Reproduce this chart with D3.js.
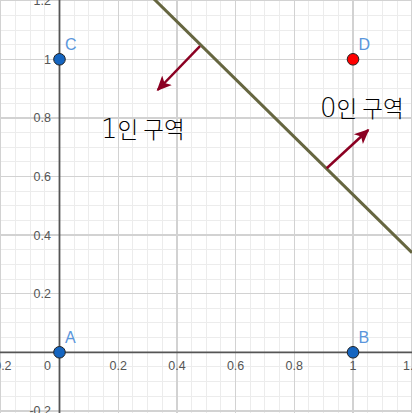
<!DOCTYPE html>
<html>
<head>
<meta charset="utf-8">
<script src="https://cdn.jsdelivr.net/npm/d3@7/dist/d3.min.js"></script>
<style>
  html, body { margin: 0; padding: 0; background: #fff; }
  svg { display: block; }
</style>
</head>
<body>
<svg id="chart" width="412" height="413"></svg>
<script>
// ---- data ----
const xDomain = [-0.2027, 1.2010];
const yDomain = [-0.2072, 1.2024];
const majorTicks = [-0.2, 0, 0.2, 0.4, 0.6, 0.8, 1, 1.2];
const tickLabels = ["-0.2", "0", "0.2", "0.4", "0.6", "0.8", "1", "1.2"];
const minorStep = 0.05;

const pointNames = ["A", "B", "C", "D"];
const pointX = [0, 1, 0, 1];
const pointY = [0, 0, 1, 1];
const pointOutput = [1, 1, 1, 0];

// decision boundary y = slope * x + intercept
const boundarySlope = -0.985;
const boundaryIntercept = 1.523;

const arrowStartX = [0.4787, 0.9104];
const arrowStartY = [1.045, 0.628];
const arrowEndX = [0.3346, 1.052];
const arrowEndY = [0.8952, 0.7587];

const regionDigits = ["1", "0"];
const regionTexts = ["인 구역", "인 구역"];
const regionX = [0.1414, 0.8876];
const regionY = [0.7314, 0.8014];

// ---- drawing ----
const W = 412, H = 413;
const svg = d3.select("#chart");
const x = d3.scaleLinear().domain(xDomain).range([0, W]);
const y = d3.scaleLinear().domain(yDomain).range([H, 0]);

const minorX = d3.range(Math.ceil(xDomain[0] / minorStep), Math.floor(xDomain[1] / minorStep) + 1).map(i => +(i * minorStep).toFixed(4));
const minorY = d3.range(Math.ceil(yDomain[0] / minorStep), Math.floor(yDomain[1] / minorStep) + 1).map(i => +(i * minorStep).toFixed(4));

const grid = svg.append("g").attr("shape-rendering", "crispEdges");
grid.selectAll("line.mx").data(minorX).join("line")
  .attr("x1", d => x(d)).attr("x2", d => x(d)).attr("y1", 0).attr("y2", H)
  .attr("stroke", "#ececec").attr("stroke-width", 1);
grid.selectAll("line.my").data(minorY).join("line")
  .attr("y1", d => y(d)).attr("y2", d => y(d)).attr("x1", 0).attr("x2", W)
  .attr("stroke", "#ececec").attr("stroke-width", 1);
grid.selectAll("line.Mx").data(majorTicks).join("line")
  .attr("x1", d => x(d)).attr("x2", d => x(d)).attr("y1", 0).attr("y2", H)
  .attr("stroke", "#d2d2d2").attr("stroke-width", 1.3);
grid.selectAll("line.My").data(majorTicks).join("line")
  .attr("y1", d => y(d)).attr("y2", d => y(d)).attr("x1", 0).attr("x2", W)
  .attr("stroke", "#d2d2d2").attr("stroke-width", 1.3);

// axes
svg.append("line").attr("x1", 0).attr("x2", W).attr("y1", y(0)).attr("y2", y(0))
  .attr("stroke", "#555").attr("stroke-width", 1.8);
svg.append("line").attr("x1", x(0)).attr("x2", x(0)).attr("y1", 0).attr("y2", H)
  .attr("stroke", "#555").attr("stroke-width", 1.8);

// tick labels
const labFont = "Liberation Sans, Arial, sans-serif";
majorTicks.forEach((t, i) => {
  if (t === 0) return;
  svg.append("text").attr("x", x(t)).attr("y", y(0) + 17.5)
    .attr("text-anchor", "middle").attr("font-family", labFont).attr("font-size", 12.5)
    .attr("fill", "#555").text(tickLabels[i]);
  svg.append("text").attr("x", x(0) - 8.5).attr("y", y(t) + 4.5)
    .attr("text-anchor", "end").attr("font-family", labFont).attr("font-size", 12.5)
    .attr("fill", "#555").text(tickLabels[i]);
});
svg.append("text").attr("x", x(0) - 8.5).attr("y", y(0) + 17.5)
  .attr("text-anchor", "end").attr("font-family", labFont).attr("font-size", 12.5)
  .attr("fill", "#555").text("0");

// boundary line
const lineGen = d3.line().x(d => x(d)).y(d => y(boundarySlope * d + boundaryIntercept));
svg.append("path").datum(xDomain).attr("d", lineGen)
  .attr("stroke", "#666640").attr("stroke-width", 3).attr("fill", "none");

// arrows
const defs = svg.append("defs");
defs.append("marker").attr("id", "ah").attr("viewBox", "0 0 10 10")
  .attr("refX", 9).attr("refY", 5).attr("markerUnits", "userSpaceOnUse")
  .attr("markerWidth", 15).attr("markerHeight", 15).attr("orient", "auto")
  .append("path").attr("d", "M0,0.5 L10,5 L0,9.5 L2.5,5 Z").attr("fill", "#8b0022");
arrowStartX.forEach((sx, i) => {
  svg.append("line")
    .attr("x1", x(sx)).attr("y1", y(arrowStartY[i]))
    .attr("x2", x(arrowEndX[i])).attr("y2", y(arrowEndY[i]))
    .attr("stroke", "#8b0022").attr("stroke-width", 2.5)
    .attr("marker-end", "url(#ah)");
});

// region labels
regionDigits.forEach((dg, i) => {
  const t = svg.append("text").attr("x", x(regionX[i])).attr("y", y(regionY[i])).attr("fill", "#000");
  t.append("tspan").attr("font-family", "DejaVu Sans, sans-serif").attr("font-weight", 300)
    .attr("font-size", 26).text(dg);
  t.append("tspan").attr("font-family", "Noto Sans CJK KR, sans-serif").attr("font-weight", 300)
    .attr("font-size", 22.5).text(regionTexts[i]);
});

// points
svg.selectAll("circle.pt").data(pointNames).join("circle")
  .attr("cx", (d, i) => x(pointX[i])).attr("cy", (d, i) => y(pointY[i])).attr("r", 5.8)
  .attr("fill", (d, i) => pointOutput[i] === 1 ? "#1565c0" : "#ff0000")
  .attr("stroke", "#222").attr("stroke-width", 1);
svg.selectAll("text.pl").data(pointNames).join("text")
  .attr("x", (d, i) => x(pointX[i]) + 5.5).attr("y", (d, i) => y(pointY[i]) - 9.5)
  .attr("font-family", labFont).attr("font-size", 16).attr("fill", "#5a96dc")
  .text(d => d);
</script>
</body>
</html>
